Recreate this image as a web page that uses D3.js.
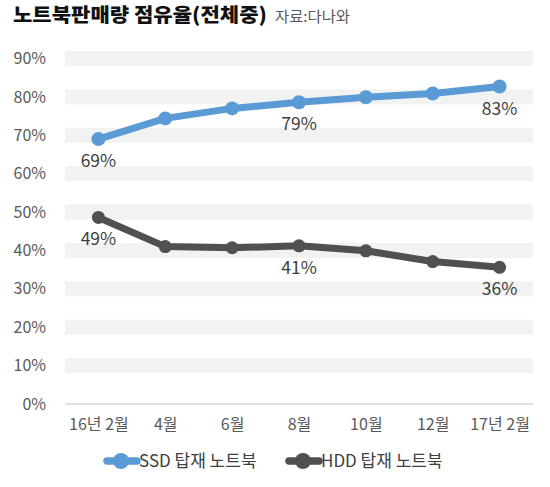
<!DOCTYPE html>
<meta charset="utf-8">
<head>
<style>
  body { margin: 0; background: #fff; }
  text { font-family: "Noto Sans CJK KR", "Noto Sans", sans-serif; }
  .tick text { fill: #595959; font-size: 16px; }
  .val { fill: #404040; font-size: 17.5px; }
  .legend text { fill: #404040; font-size: 17px; }
</style>
</head>
<body>
<div id="chart"></div>
<script src="https://d3js.org/d3.v7.min.js"></script>
<script>

// data
var months = ["16년 2월", "4월", "6월", "8월", "10월", "12월", "17년 2월"];
var ssd = [0.69, 0.744, 0.77, 0.786, 0.799, 0.809, 0.827];
var hdd = [0.486, 0.41, 0.407, 0.412, 0.399, 0.371, 0.356];
var yTicks = [0, 0.1, 0.2, 0.3, 0.4, 0.5, 0.6, 0.7, 0.8, 0.9];
// which points get a value label, and the text shown
var ssdLabels = [{i: 0, t: "69%"}, {i: 3, t: "79%"}, {i: 6, t: "83%"}];
var hddLabels = [{i: 0, t: "49%"}, {i: 3, t: "41%"}, {i: 6, t: "36%"}];

var W = 550, H = 487;
var plotLeft = 65, plotRight = 533, plotTop = 58.5, plotBottom = 404;

var svg = d3.select("#chart").append("svg")
    .attr("width", W)
    .attr("height", H);

var x = d3.scalePoint()
    .domain(months)
    .range([plotLeft, plotRight])
    .padding(0.5);

var y = d3.scaleLinear()
    .domain([0, 0.9])
    .range([plotBottom, plotTop]);

// title
svg.append("text")
    .attr("x", 13)
    .attr("y", 22)
    .attr("textLength", 254)
    .attr("lengthAdjust", "spacingAndGlyphs")
    .style("font-size", "19.5px")
    .style("font-weight", "900")
    .style("fill", "#111")
    .text("노트북판매량 점유율(전체중)");

svg.append("text")
    .attr("x", 275)
    .attr("y", 22)
    .attr("textLength", 75)
    .attr("lengthAdjust", "spacingAndGlyphs")
    .style("font-size", "15px")
    .style("fill", "#595959")
    .text("자료:다나와");

// grid bands (thick light stripes) and the zero line
svg.append("g").selectAll("rect")
    .data(yTicks.filter(function(d) { return d > 0; }))
  .enter().append("rect")
    .attr("x", plotLeft)
    .attr("width", plotRight - plotLeft)
    .attr("y", function(d) { return y(d) - 7.5; })
    .attr("height", 15)
    .attr("fill", "#f2f2f2");

svg.append("line")
    .attr("x1", plotLeft).attr("x2", plotRight)
    .attr("y1", y(0)).attr("y2", y(0))
    .attr("stroke", "#d9d9d9")
    .attr("stroke-width", 1.5);

// axes
var yAxis = svg.append("g")
    .attr("transform", "translate(46,0)")
    .call(d3.axisLeft(y).tickValues(yTicks).tickSize(0).tickPadding(0)
      .tickFormat(d3.format(".0%")));
yAxis.select(".domain").remove();

var xAxis = svg.append("g")
    .attr("transform", "translate(0," + plotBottom + ")")
    .call(d3.axisBottom(x).tickSize(0).tickPadding(15));
xAxis.select(".domain").remove();

// series
var line = d3.line()
    .x(function(d, i) { return x(months[i]); })
    .y(function(d) { return y(d); });

function drawSeries(values, color, r, labels) {
  var g = svg.append("g");
  g.append("path")
      .datum(values)
      .attr("d", line)
      .attr("fill", "none")
      .attr("stroke", color)
      .attr("stroke-width", 7)
      .attr("stroke-linejoin", "round");
  g.selectAll("circle")
      .data(values)
    .enter().append("circle")
      .attr("cx", function(d, i) { return x(months[i]); })
      .attr("cy", function(d) { return y(d); })
      .attr("r", r)
      .attr("fill", color);
  g.selectAll("text")
      .data(labels)
    .enter().append("text")
      .attr("class", "val")
      .attr("x", function(d) { return x(months[d.i]); })
      .attr("y", function(d) { return y(values[d.i]) + 28; })
      .attr("text-anchor", "middle")
      .text(function(d) { return d.t; });
}

drawSeries(ssd, "#5b9bd5", 7, ssdLabels);
drawSeries(hdd, "#505050", 6.5, hddLabels);

// legend
var legend = [
  {name: "SSD 탑재 노트북", color: "#5b9bd5", x: 105},
  {name: "HDD 탑재 노트북", color: "#505050", x: 287}
];
var lg = svg.append("g").attr("class", "legend")
  .selectAll("g")
    .data(legend)
  .enter().append("g")
    .attr("transform", function(d) { return "translate(" + d.x + ",461)"; });
lg.append("line")
    .attr("x1", 2).attr("x2", 32)
    .attr("stroke", function(d) { return d.color; })
    .attr("stroke-width", 7.5)
    .attr("stroke-linecap", "round");
lg.append("circle")
    .attr("cx", 16)
    .attr("r", 8)
    .attr("fill", function(d) { return d.color; });
lg.append("text")
    .attr("x", 34)
    .attr("y", 6)
    .text(function(d) { return d.name; });

</script>
</body>
